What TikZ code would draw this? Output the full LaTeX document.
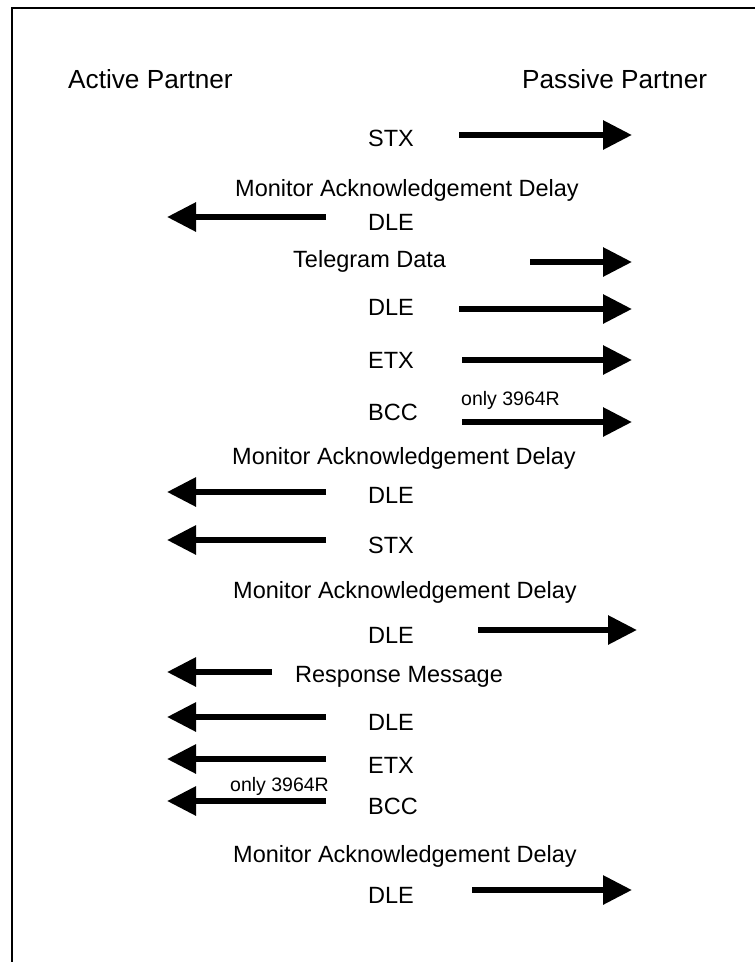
\documentclass[tikz,border=0pt]{standalone}
\usepackage{fontspec}
\setmainfont{Liberation Sans}
\usetikzlibrary{arrows.meta}

\begin{document}
\begin{tikzpicture}[
    x=1pt, y=-1pt,
    txt/.style={anchor=base west, inner sep=0pt, font=\fontsize{23.5}{28}\selectfont},
    hdr/.style={anchor=base west, inner sep=0pt, font=\fontsize{26.2}{31}\selectfont},
    note/.style={anchor=base west, inner sep=0pt, font=\fontsize{19.5}{23}\selectfont},
    sig/.style={line width=6pt, -{Triangle[length=29pt,width=28pt]}}
]
\useasboundingbox (0,0) rectangle (755,962);
\draw[line width=2.2pt] (12,962) -- (12,8) -- (755,8);

\node[hdr] (active) at (68,88) {Active Partner};
\node[hdr] (passive) at (522,88) {Passive Partner};

% request telegram
\node[txt] (stxa) at (368,146) {STX};
\coordinate (stxa-s) at (459,135);
\coordinate (stxa-e) at (632,135);
\draw[sig] (stxa-s) -- (stxa-e);

\node[txt] (mada) at (235,196) {Monitor Acknowledgement Delay};

\node[txt] (dlea) at (368,230) {DLE};
\coordinate (dlea-s) at (326,217);
\coordinate (dlea-e) at (167,217);
\draw[sig] (dlea-s) -- (dlea-e);

\node[txt] (data) at (293,267) {Telegram Data};
\coordinate (data-s) at (530,262);
\coordinate (data-e) at (632,262);
\draw[sig] (data-s) -- (data-e);

\node[txt] (dleb) at (368,315) {DLE};
\coordinate (dleb-s) at (459,309);
\coordinate (dleb-e) at (632,309);
\draw[sig] (dleb-s) -- (dleb-e);

\node[txt] (etxa) at (368,368) {ETX};
\coordinate (etxa-s) at (462,360);
\coordinate (etxa-e) at (632,360);
\draw[sig] (etxa-s) -- (etxa-e);

\node[note] (onlya) at (461,405) {only 3964R};
\node[txt] (bcca) at (368,420) {BCC};
\coordinate (bcca-s) at (462,422);
\coordinate (bcca-e) at (632,422);
\draw[sig] (bcca-s) -- (bcca-e);

\node[txt] (madb) at (232,464) {Monitor Acknowledgement Delay};

\node[txt] (dlec) at (368,503) {DLE};
\coordinate (dlec-s) at (326,492);
\coordinate (dlec-e) at (167,492);
\draw[sig] (dlec-s) -- (dlec-e);

% response telegram
\node[txt] (stxb) at (368,553) {STX};
\coordinate (stxb-s) at (326,540);
\coordinate (stxb-e) at (167,540);
\draw[sig] (stxb-s) -- (stxb-e);

\node[txt] (madc) at (233,598) {Monitor Acknowledgement Delay};

\node[txt] (dled) at (368,643) {DLE};
\coordinate (dled-s) at (478,630);
\coordinate (dled-e) at (637,630);
\draw[sig] (dled-s) -- (dled-e);

\node[txt] (resp) at (295,682) {Response Message};
\coordinate (resp-s) at (272,672);
\coordinate (resp-e) at (167,672);
\draw[sig] (resp-s) -- (resp-e);

\node[txt] (dlee) at (368,730) {DLE};
\coordinate (dlee-s) at (326,717);
\coordinate (dlee-e) at (167,717);
\draw[sig] (dlee-s) -- (dlee-e);

\node[txt] (etxb) at (368,773) {ETX};
\coordinate (etxb-s) at (326,759);
\coordinate (etxb-e) at (167,759);
\draw[sig] (etxb-s) -- (etxb-e);

\node[note] (onlyb) at (230,791) {only 3964R};
\node[txt] (bccb) at (368,814) {BCC};
\coordinate (bccb-s) at (326,801);
\coordinate (bccb-e) at (167,801);
\draw[sig] (bccb-s) -- (bccb-e);

\node[txt] (madd) at (233,862) {Monitor Acknowledgement Delay};

\node[txt] (dlef) at (368,903) {DLE};
\coordinate (dlef-s) at (472,890);
\coordinate (dlef-e) at (632,890);
\draw[sig] (dlef-s) -- (dlef-e);
\end{tikzpicture}
\end{document}
